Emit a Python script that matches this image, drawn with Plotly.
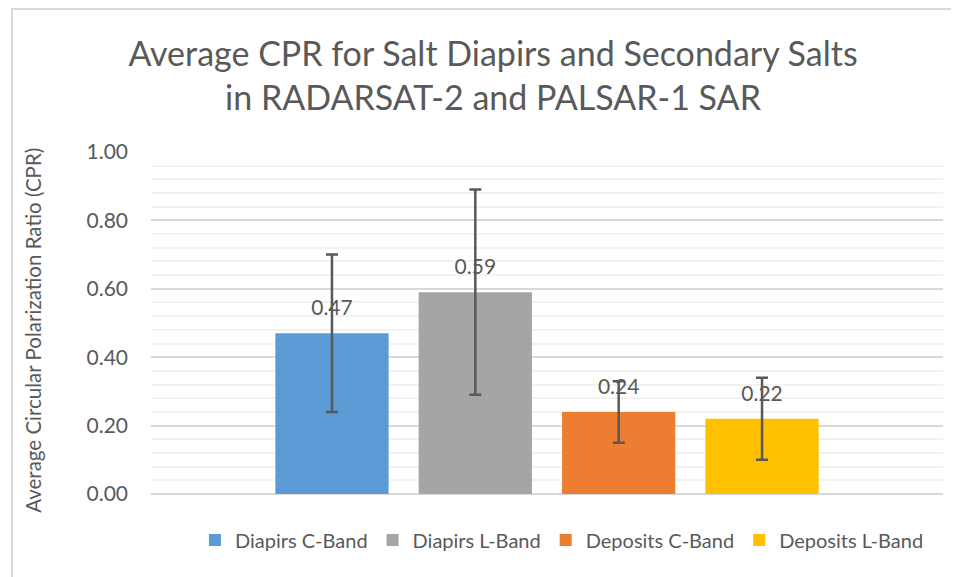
import plotly.graph_objects as go

# --- Data ---
series_names = ["Diapirs C-Band", "Diapirs L-Band", "Deposits C-Band", "Deposits L-Band"]
cpr_means = [0.47, 0.59, 0.24, 0.22]
cpr_errors = [0.23, 0.30, 0.09, 0.12]
bar_colors = ["#5B9BD5", "#A5A5A5", "#ED7D31", "#FFC000"]
category = [""]

FONT = "Lato"
TEXT_GREY = "#595959"

fig = go.Figure()

for name, mean, err, color in zip(series_names, cpr_means, cpr_errors, bar_colors):
    fig.add_trace(
        go.Bar(
            name=name,
            x=category,
            y=[mean],
            marker_color=color,
            marker_line_width=0,
            error_y=dict(
                type="data",
                array=[err],
                color=TEXT_GREY,
                thickness=2.5,
                width=6,
            ),
            # small second line lifts the label a little above the bar, like Excel
            texttemplate="<span style='font-size:21px'>%{y:.2f}</span><br> ",
            textposition="outside",
            textfont=dict(family=FONT, size=10, color=TEXT_GREY),
            cliponaxis=False,
        )
    )

# page body has an 8px margin, so the figure is a bit smaller than the window
fig.update_layout(
    width=951,
    height=569,
    barmode="group",
    bargap=0.276,
    bargroupgap=0.21,
    paper_bgcolor="white",
    plot_bgcolor="white",
    font=dict(family=FONT, color=TEXT_GREY),
    title=dict(
        text="Average CPR for Salt Diapirs and Secondary Salts<br>in RADARSAT-2 and PALSAR-1 SAR",
        x=0.510,
        xanchor="center",
        y=0.898,
        yanchor="top",
        font=dict(family=FONT, size=34, color=TEXT_GREY),
    ),
    margin={"l": 143, "r": 16, "t": 144, "b": 83},
    legend=dict(
        orientation="h",
        xref="container",
        yref="container",
        x=0.5825,
        xanchor="center",
        y=0.065,
        yanchor="middle",
        font=dict(family=FONT, size=20, color=TEXT_GREY),
        traceorder="normal",
    ),
    xaxis=dict(showticklabels=False, showline=False, showgrid=False, zeroline=False),
    yaxis=dict(
        range=[0, 1.0],
        dtick=0.2,
        tickformat=".2f",
        showgrid=True,
        gridcolor="#D9D9D9",
        gridwidth=1.5,
        zeroline=True,
        zerolinecolor="#D9D9D9",
        zerolinewidth=1.5,
        minor=dict(dtick=0.04, showgrid=True, gridcolor="#F2F2F2", gridwidth=1.5),
        tickfont=dict(family=FONT, size=21, color=TEXT_GREY),
        ticks="",
        ticklabelstandoff=22,
    ),
    # axis title as an annotation so it can sit a little below centre, as in Excel
    annotations=[
        dict(
            text="Average Circular Polarization Ratio (CPR)",
            xref="paper",
            yref="paper",
            x=-0.149,
            y=0.48,
            xanchor="center",
            yanchor="middle",
            textangle=-90,
            showarrow=False,
            font=dict(family=FONT, size=20.5, color=TEXT_GREY),
        )
    ],
    shapes=[
        dict(
            type="rect",
            xref="paper",
            yref="paper",
            x0=-0.1755,
            x1=1.1,
            y0=-0.4,
            y1=1.418,
            line=dict(color="#D9D9D9", width=2),
            layer="below",
        )
    ],
)

fig.write_html("out.html")
